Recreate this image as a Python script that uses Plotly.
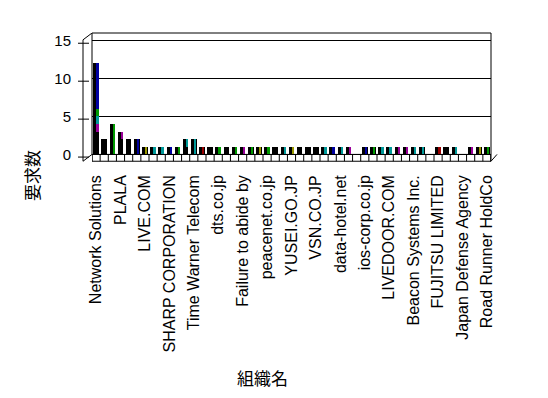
import plotly.graph_objects as go

# ---- data ----
label_names = ["Network Solutions", "PLALA", "LIVE.COM", "SHARP CORPORATION",
               "Time Warner Telecom", "dts.co.jp", "Failure to abide by",
               "peacenet.co.jp", "YUSEI.GO.JP", "VSN.CO.JP", "data-hotel.net",
               "ios-corp.co.jp", "LIVEDOOR.COM", "Beacon Systems Inc.",
               "FUJITSU LIMITED", "Japan Defense Agency", "Road Runner HoldCo"]
n_cats = 49
label_index = list(range(0, n_cats, 3))
categories = list(range(n_cats))

s_black = [3, 2, 0, 2, 2, 0, 0, 0, 0, 0,
           0, 1, 0, 0, 1, 0, 1, 0, 0, 0,
           0, 0, 1, 0, 0, 1, 1, 1, 0, 0,
           0, 0, 0, 0, 0, 0, 0, 0, 0, 0,
           0, 0, 0, 1, 0, 0, 0, 0, 0]
s_magenta = [1, 0, 0, 1, 0, 0, 0, 0, 0, 0,
             0, 0, 0, 0, 0, 0, 0, 0, 1, 0,
             0, 0, 0, 0, 0, 0, 0, 0, 0, 0,
             0, 1, 0, 0, 0, 0, 0, 1, 1, 0,
             0, 0, 0, 0, 0, 0, 1, 0, 0]
s_teal = [1, 0, 0, 0, 0, 0, 0, 1, 1, 0,
          0, 1, 2, 0, 0, 0, 0, 0, 0, 0,
          0, 0, 0, 1, 0, 0, 0, 0, 1, 0,
          1, 0, 0, 0, 0, 1, 1, 0, 0, 1,
          1, 0, 0, 0, 1, 0, 0, 0, 0]
s_green = [1, 0, 4, 0, 0, 0, 0, 0, 0, 0,
           1, 0, 0, 0, 0, 1, 0, 1, 0, 1,
           0, 1, 0, 0, 0, 0, 0, 0, 0, 0,
           0, 0, 0, 0, 1, 0, 0, 0, 0, 0,
           0, 0, 0, 0, 0, 0, 0, 0, 1]
s_blue = [6, 0, 0, 0, 0, 2, 0, 0, 0, 1,
          0, 0, 0, 0, 0, 0, 0, 0, 0, 0,
          0, 0, 0, 0, 0, 0, 0, 0, 0, 1,
          0, 0, 0, 1, 0, 0, 0, 0, 0, 0,
          0, 0, 0, 0, 0, 0, 0, 0, 0]
s_olive = [0, 0, 0, 0, 0, 0, 1, 0, 0, 0,
           0, 0, 0, 0, 0, 0, 0, 0, 0, 0,
           1, 0, 0, 0, 1, 0, 0, 0, 0, 0,
           0, 0, 0, 0, 0, 0, 0, 0, 0, 0,
           0, 0, 0, 0, 0, 0, 0, 1, 0]
s_darkred = [0, 0, 0, 0, 0, 0, 0, 0, 0, 0,
             0, 0, 0, 1, 0, 0, 0, 0, 0, 0,
             0, 0, 0, 0, 0, 0, 0, 0, 0, 0,
             0, 0, 0, 0, 0, 0, 0, 0, 0, 0,
             0, 0, 1, 0, 0, 0, 0, 0, 0]
y_ticks = [0, 5, 10, 15]

series = [
    ("black", s_black, "#000000"),
    ("magenta", s_magenta, "#990099"),
    ("teal", s_teal, "#009999"),
    ("green", s_green, "#009900"),
    ("blue", s_blue, "#0000A0"),
    ("olive", s_olive, "#999900"),
    ("darkred", s_darkred, "#990000"),
]

totals = [sum(s[1][i] for s in series) for i in range(n_cats)]

W, H = 548, 398
OFF = 8  # page body margin in the browser
L, R, T, B = 92 - OFF, 491 - OFF, 33 - OFF, 162 - OFF

fig = go.Figure()
# dark (side) body of every column
fig.add_trace(go.Bar(x=categories, y=totals, width=0.7, offset=-0.35,
                     marker=dict(color="#000000", line=dict(width=0)),
                     showlegend=False, hoverinfo="skip"))
# coloured front faces, stacked
base = [0] * n_cats
for name, vals, col in series:
    fig.add_trace(go.Bar(x=categories, y=vals, base=list(base), width=0.28, offset=0.02,
                         marker=dict(color=col, line=dict(width=0)),
                         name=name, showlegend=False))
    base = [b + v for b, v in zip(base, vals)]

def px(xp):
    return (xp - OFF - L) / (R - L)

def py(yp):
    return (B - (yp - OFF)) / (B - T)

shapes = []
line = dict(color="black", width=1)
# back wall frame
shapes.append(dict(type="line", xref="paper", yref="paper", x0=0, x1=1, y0=1, y1=1, line=line))
shapes.append(dict(type="line", xref="paper", yref="y", x0=0, x1=0, y0=0, y1=16, line=line))
shapes.append(dict(type="line", xref="paper", yref="y", x0=1, x1=1, y0=-0.9, y1=16, line=line))
# front-left wall edge and diagonal
shapes.append(dict(type="line", xref="paper", yref="y", x0=px(83), x1=0, y0=15.1, y1=16, line=line))
shapes.append(dict(type="line", xref="paper", yref="y", x0=px(83), x1=px(83), y0=-0.9, y1=15.1, line=line))
for t in y_ticks:
    shapes.append(dict(type="line", xref="paper", yref="y", x0=px(78), x1=px(89), y0=t - 0.35, y1=t - 0.35, line=line))
# floor
shapes.append(dict(type="rect", xref="x", yref="y", x0=-0.5, x1=n_cats - 0.5, y0=-0.9, y1=0,
                   line=line, fillcolor="white", layer="below"))
for k in range(n_cats + 1):
    shapes.append(dict(type="line", xref="x", yref="y", x0=k - 0.5, x1=k - 0.5, y0=-0.9, y1=0, line=line))
shapes.append(dict(type="line", xref="paper", yref="y", x0=px(83), x1=0, y0=-0.9, y1=0, line=line))
shapes.append(dict(type="line", xref="paper", yref="y", x0=1, x1=px(497), y0=-0.9, y1=0, line=line))

fig.update_layout(
    width=W, height=H,
    margin=dict(l=L, r=W - R, t=T, b=H - B),
    paper_bgcolor="white", plot_bgcolor="white",
    barmode="overlay", bargap=0,
    showlegend=False,
    shapes=shapes,
    font=dict(family="Liberation Sans, Arial, sans-serif", color="black"),
    xaxis=dict(range=[-0.5, n_cats - 0.5], tickmode="array", tickvals=label_index,
               ticktext=label_names, tickangle=-90, showgrid=False, zeroline=False,
               showline=False, ticks="", tickfont=dict(size=16), ticklabelstandoff=9),
    yaxis=dict(range=[-1, 16], tickmode="array", tickvals=y_ticks, showgrid=True,
               gridcolor="black", gridwidth=1, zeroline=False, showline=False, ticks="",
               tickfont=dict(size=15), ticklabelstandoff=20),
    annotations=[
        dict(text="組織名", xref="paper", yref="paper", x=px(262), y=py(377),
             xanchor="center", yanchor="middle",
             showarrow=False, font=dict(size=17, family="Noto Sans CJK JP")),
        dict(text="要求数", xref="paper", yref="paper", x=px(31), y=py(176),
             xanchor="center", yanchor="middle",
             showarrow=False, textangle=-90, font=dict(size=17, family="Noto Sans CJK JP")),
    ],
)

fig.write_html("out.html")
